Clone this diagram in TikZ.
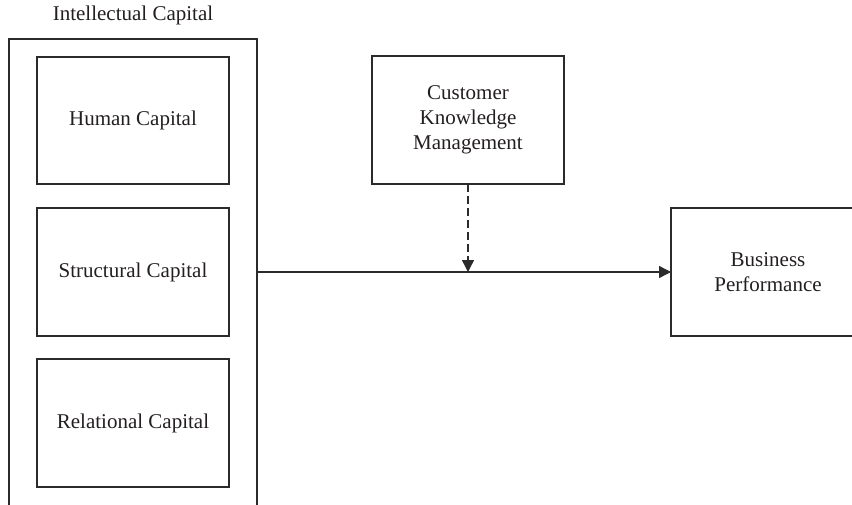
\documentclass[tikz,border=0pt]{standalone}
\usepackage{fontspec}
\setmainfont{Liberation Serif}
\usetikzlibrary{arrows.meta}
\definecolor{ink}{HTML}{2B2B2B}
\definecolor{txt}{HTML}{231F20}
\tikzset{
  box/.style={draw=ink, line width=1.4pt, inner sep=0pt, outer sep=0pt,
    align=center, text=txt, font=\fontsize{21}{25}\selectfont},
  link/.style={draw=ink, line width=1.4pt, -{Triangle[length=12pt,width=12pt]}},
  modlink/.style={link, dash pattern=on 8pt off 4pt},
  lbl/.style={text=txt, font=\fontsize{21}{25}\selectfont, inner sep=0pt}
}
\begin{document}
\begin{tikzpicture}[x=1pt,y=-1pt]
  \useasboundingbox (0,0) rectangle (852,504);
  \begin{scope}
    \clip (0,0) rectangle (852,504);
    % group frame and its caption
    \node[box, minimum width=248pt, minimum height=470pt] (ic) at (133,274) {};
    \node[lbl] (ictitle) at (133,15) {Intellectual Capital};
    % components of intellectual capital
    \node[box, minimum width=192pt, minimum height=127pt] (hc) at (133,120.5) {Human Capital};
    \node[box, minimum width=192pt, minimum height=128pt] (sc) at (133,272) {Structural Capital};
    \node[box, minimum width=192pt, minimum height=128pt] (rc) at (133,423) {Relational Capital};
    % moderator and outcome
    \node[box, minimum width=192pt, minimum height=128pt] (ckm) at (468,120) {Customer\\Knowledge\\Management};
    \node[box, minimum width=194pt, minimum height=128pt] (bp) at (768,272) {Business\\Performance};
    % connectors
    \draw[link] (ic.east |- bp.west) -- (bp.west);
    \draw[modlink] (ckm.south) -- (ckm.south |- bp.west);
  \end{scope}
\end{tikzpicture}
\end{document}
